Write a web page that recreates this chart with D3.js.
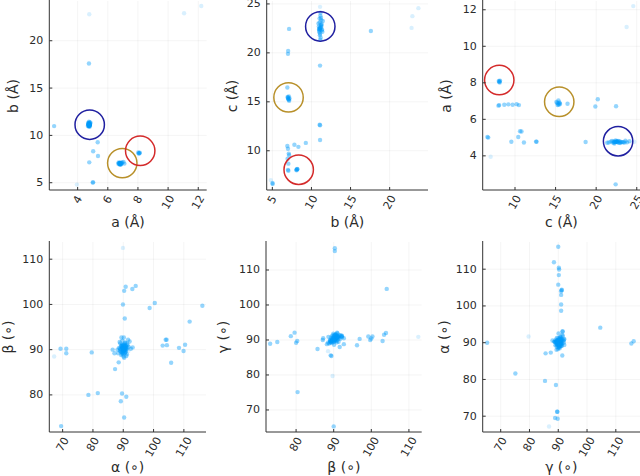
<!DOCTYPE html>
<html>
<head>
<meta charset="utf-8">
<script src="https://cdn.jsdelivr.net/npm/d3@7"></script>
<style>
  html, body { margin: 0; padding: 0; background: #fff; }
  svg { display: block; font-family: "DejaVu Sans", sans-serif; }
</style>
</head>
<body>
<svg id="chart" width="640" height="476"></svg>
<script>
// lattice lengths [a, b, c] in Å, one row per structure
const lengthRows = [
  // main cluster a≈4.8, b≈11.1, c≈22.7
  [4.72, 11.02, 22.10], [4.75, 11.10, 22.35], [4.78, 11.15, 22.60], [4.80, 11.20, 22.85],
  [4.76, 11.05, 23.10], [4.74, 11.25, 23.35], [4.79, 11.12, 22.50], [4.81, 10.95, 22.70],
  [4.70, 11.30, 22.95], [4.77, 11.08, 21.80], [4.73, 11.18, 21.55], [4.83, 11.22, 23.60],
  [4.68, 11.00, 22.25], [4.85, 11.35, 22.40], [4.76, 10.90, 23.00], [4.79, 11.40, 22.15],
  [4.74, 11.14, 23.80], [4.78, 11.06, 22.55], [4.71, 11.28, 22.80], [4.82, 11.10, 21.95],
  [4.75, 11.45, 23.25], [4.77, 10.98, 22.45], [4.80, 11.16, 24.10], [4.76, 11.24, 22.65],
  [4.73, 11.04, 23.50], [4.78, 11.32, 22.30], [4.72, 11.12, 21.35],
  [4.76, 11.10, 18.70], [4.78, 11.10, 12.60], [4.77, 11.05, 12.65], [4.73, 11.10, 11.10],
  [4.75, 17.60, 22.24], [2.44, 10.98, 22.40],
  // cluster a≈6.9, b≈7.1, c≈15.3
  [6.85, 7.05, 15.30], [6.90, 7.10, 15.20], [6.80, 7.00, 15.40], [6.95, 7.15, 15.10],
  [6.88, 6.95, 15.50], [7.04, 7.20, 15.35], [6.78, 7.08, 15.25], [6.92, 7.02, 15.45],
  [6.84, 7.12, 15.55],
  [6.85, 6.92, 16.47], [6.75, 7.05, 7.96], [6.78, 7.00, 8.05], [6.80, 7.05, 8.68],
  [6.82, 6.95, 9.18], [6.80, 7.10, 9.71], [6.83, 7.00, 10.20], [6.78, 6.92, 10.48],
  [6.70, 7.00, 19.90], [7.10, 7.02, 20.20], [6.72, 7.14, 22.45],
  // cluster a≈8.1, b≈8.1, c≈8.1
  [8.08, 8.13, 8.10], [8.05, 8.08, 8.05], [8.12, 8.18, 8.15], [8.10, 8.10, 8.00],
  [8.02, 8.20, 8.12],
  // others
  [5.33, 9.28, 10.80], [5.03, 8.33, 10.40], [5.35, 7.82, 10.62], [4.77, 7.15, 9.55],
  [5.03, 5.04, 6.60], [5.00, 5.02, 6.70]
];
// rarely observed structures (drawn lighter)
const faintLengthRows = [
  [4.77, 11.10, 24.70], [4.77, 22.80, 22.55], [3.95, 4.80, 7.00],
  [11.06, 22.90, 23.75], [12.20, 23.67, 24.57]
];

// lattice angles [alpha, beta, gamma] in degrees
const angleRows = [
  // near-orthogonal cluster
  [90.0, 90.0, 90.0], [89.5, 89.6, 89.8], [90.4, 90.3, 90.2], [89.8, 90.6, 90.5],
  [90.6, 89.4, 89.6], [89.2, 90.1, 90.8], [90.9, 90.8, 90.9], [89.6, 89.1, 89.3],
  [90.2, 91.2, 91.0], [91.1, 90.0, 90.4], [88.9, 89.8, 89.5], [90.7, 91.5, 91.3],
  [89.3, 88.8, 89.0], [91.4, 91.0, 90.7], [88.6, 90.4, 90.1], [90.1, 88.5, 89.2],
  [91.8, 90.6, 91.6], [89.0, 91.4, 90.6], [90.5, 89.9, 91.8], [88.3, 89.2, 89.9],
  [91.2, 89.0, 90.0], [89.7, 92.0, 91.1], [90.3, 88.2, 88.8], [92.1, 91.8, 91.4],
  [88.8, 91.7, 90.3], [90.8, 89.5, 89.1], [89.4, 90.9, 92.1], [91.6, 92.2, 90.8],
  [89.9, 89.3, 90.7], [90.6, 90.7, 89.7], [92.5, 90.2, 90.1], [88.1, 90.0, 89.4],
  [90.0, 91.0, 91.9], [91.0, 88.6, 90.9], [89.1, 89.6, 91.2], [90.3, 90.1, 88.6],
  [91.3, 91.3, 89.5], [89.6, 90.5, 90.3], [90.1, 89.7, 90.6], [90.9, 90.4, 91.5],
  [90.2, 89.8, 90.1], [89.7, 90.2, 89.9], [90.5, 90.5, 90.6], [89.4, 89.4, 89.6],
  [90.8, 90.1, 90.3], [89.9, 90.9, 90.8], [90.4, 89.2, 89.4], [89.2, 90.7, 90.4],
  [91.0, 90.6, 91.1], [90.0, 89.0, 89.7], [89.6, 91.1, 90.9], [90.7, 89.7, 90.0],
  [89.8, 90.3, 91.3], [90.3, 90.8, 89.3], [91.2, 90.3, 90.5], [88.9, 90.2, 90.2],
  [90.1, 90.0, 91.0], [89.5, 90.8, 89.9], [90.6, 91.0, 90.7], [89.9, 89.6, 90.4],
  // outliers
  [94.1, 104.1, 104.6], [90.8, 103.9, 92.0], [93.0, 103.4, 91.5], [90.3, 103.0, 89.7],
  [89.9, 100.0, 90.4], [98.7, 99.2, 91.0], [100.4, 100.3, 91.0], [90.5, 96.9, 90.3],
  [116.1, 99.7, 90.0], [111.9, 96.2, 88.5], [104.0, 92.2, 91.0], [104.3, 92.2, 91.2],
  [103.0, 90.9, 91.0], [104.4, 91.0, 91.2], [110.4, 91.1, 90.2], [109.9, 89.7, 90.3],
  [108.4, 90.4, 90.2], [105.8, 87.1, 90.0], [87.3, 85.7, 87.4], [81.6, 80.4, 75.1],
  [78.5, 80.0, 89.2], [89.6, 80.3, 89.7], [89.2, 78.6, 91.1], [91.0, 79.6, 92.1],
  [90.3, 75.0, 89.4], [69.5, 73.1, 88.9], [79.6, 89.4, 85.4], [69.3, 90.2, 89.8],
  [71.2, 90.2, 89.7], [71.2, 89.2, 89.6], [90.0, 90.0, 65.3], [90.4, 90.3, 116.2],
  [89.8, 90.3, 115.4], [90.2, 92.7, 88.8], [90.6, 91.6, 88.0], [88.5, 87.2, 90.5],
  [87.1, 89.2, 85.6], [86.5, 90.0, 91.4], [89.4, 92.7, 90.5], [93.1, 90.5, 91.5]
];
const faintAngleRows = [
  [89.9, 112.5, 90.9], [67.2, 88.5, 86.8], [91.7, 89.7, 79.7]
];

// highlighted families [a, b, c]
const clusterCenters = [[4.80, 11.13, 22.70], [6.96, 7.07, 15.45], [8.15, 8.37, 8.06]];
const clusterColors = ['#1f1fa0', '#b8902a', '#d42a2a'];

// tick values
const ticksA = [4, 6, 8, 10, 12];
const ticksB1 = [5, 10, 15, 20];
const ticksC = [10, 15, 20, 25];
const ticksA3 = [4, 6, 8, 10, 12];
const ticksAlphaX = [70, 80, 90, 100, 110];
const ticksBetaY = [80, 90, 100, 110];
const ticksBetaX = [80, 90, 100, 110];
const ticksAngleY = [70, 80, 90, 100, 110];

const panels = [
  { rows: 'len', xi: 0, yi: 1, xLabel: 'a (Å)', yLabel: 'b (Å)',
    box: [49.3, 206.7, 1, 190], xDom: [2.12, 12.56], yDom: [4.23, 24.2],
    xTicks: ticksA, yTicks: ticksB1, yLabX: 13 },
  { rows: 'len', xi: 1, yi: 2, xLabel: 'b (Å)', yLabel: 'c (Å)',
    box: [266.7, 428, 1, 190], xDom: [4.28, 24.9], yDom: [5.99, 25.3],
    xTicks: ticksB1, yTicks: ticksC, yLabX: 232 },
  { rows: 'len', xi: 2, yi: 0, xLabel: 'c (Å)', yLabel: 'a (Å)',
    box: [482.7, 640, 1, 190], xDom: [6.02, 25.4], yDom: [2.13, 12.48],
    xTicks: ticksC, yTicks: ticksA3, yLabX: 446 },
  { rows: 'ang', xi: 0, yi: 1, xLabel: 'α (∘)', yLabel: 'β (∘)',
    box: [49.3, 206, 242, 432], xDom: [65.6, 117.3], yDom: [71.8, 113.8],
    xTicks: ticksAlphaX, yTicks: ticksBetaY, yLabX: 7.5 },
  { rows: 'ang', xi: 1, yi: 2, xLabel: 'β (∘)', yLabel: 'γ (∘)',
    box: [266, 421.7, 242, 432], xDom: [72.0, 113.4], yDom: [63.7, 118],
    xTicks: ticksBetaX, yTicks: ticksAngleY, yLabX: 223 },
  { rows: 'ang', xi: 2, yi: 0, xLabel: 'γ (∘)', yLabel: 'α (∘)',
    box: [482.7, 640, 242, 432], xDom: [63.75, 118.4], yDom: [65.7, 117.4],
    xTicks: ticksAlphaX, yTicks: ticksAngleY, yLabX: 444 }
];

const svg = d3.select('#chart');
const pointColor = '#009AFA';
const textColor = '#2b2b2b';

panels.forEach((p) => {
  const [left, right, top, bottom] = p.box;
  const x = d3.scaleLinear().domain(p.xDom).range([left, right]);
  const y = d3.scaleLinear().domain(p.yDom).range([bottom, top]);
  const g = svg.append('g');

  // grid
  g.selectAll('.gx').data(p.xTicks).join('line')
    .attr('x1', d => x(d)).attr('x2', d => x(d))
    .attr('y1', top).attr('y2', bottom)
    .attr('stroke', '#000').attr('stroke-opacity', 0.08).attr('stroke-width', 0.6);
  g.selectAll('.gy').data(p.yTicks).join('line')
    .attr('x1', left).attr('x2', right)
    .attr('y1', d => y(d)).attr('y2', d => y(d))
    .attr('stroke', '#000').attr('stroke-opacity', 0.08).attr('stroke-width', 0.6);

  // points
  const rows = p.rows === 'len' ? lengthRows : angleRows;
  const faint = p.rows === 'len' ? faintLengthRows : faintAngleRows;
  g.selectAll('.pf').data(faint).join('circle')
    .attr('cx', d => x(d[p.xi])).attr('cy', d => y(d[p.yi]))
    .attr('r', 2.2).attr('fill', pointColor).attr('fill-opacity', 0.15);
  g.selectAll('.pt').data(rows).join('circle')
    .attr('cx', d => x(d[p.xi])).attr('cy', d => y(d[p.yi]))
    .attr('r', 2.2).attr('fill', pointColor).attr('fill-opacity', 0.42);

  // highlighted families (length panels only)
  if (p.rows === 'len') {
    g.selectAll('.hl').data(clusterCenters).join('circle')
      .attr('cx', d => x(d[p.xi])).attr('cy', d => y(d[p.yi]))
      .attr('r', 14.7).attr('fill', 'none')
      .attr('stroke', (d, i) => clusterColors[i]).attr('stroke-width', 1.5);
  }

  // axes lines
  g.append('line').attr('x1', left).attr('x2', right).attr('y1', bottom).attr('y2', bottom)
    .attr('stroke', '#333').attr('stroke-width', 1);
  g.append('line').attr('x1', left).attr('x2', left).attr('y1', top - 1).attr('y2', bottom)
    .attr('stroke', '#333').attr('stroke-width', 1);

  // tick marks (inward)
  g.selectAll('.tx').data(p.xTicks).join('line')
    .attr('x1', d => x(d)).attr('x2', d => x(d))
    .attr('y1', bottom).attr('y2', bottom - 3)
    .attr('stroke', '#333').attr('stroke-width', 1);
  g.selectAll('.ty').data(p.yTicks).join('line')
    .attr('x1', left).attr('x2', left + 3)
    .attr('y1', d => y(d)).attr('y2', d => y(d))
    .attr('stroke', '#333').attr('stroke-width', 1);

  // x tick labels, rotated
  g.selectAll('.xl').data(p.xTicks).join('text')
    .attr('font-size', 11).attr('fill', textColor)
    .attr('text-anchor', 'middle').attr('dominant-baseline', 'central')
    .text(d => d)
    .each(function (d) {
      const len = this.getComputedTextLength();
      const cy = bottom + 7 + 0.38 * len;
      d3.select(this).attr('transform', `translate(${x(d)},${cy}) rotate(-60)`);
    });

  // y tick labels
  g.selectAll('.yl').data(p.yTicks).join('text')
    .attr('font-size', 11).attr('fill', textColor)
    .attr('text-anchor', 'end').attr('dominant-baseline', 'central')
    .attr('x', left - 6).attr('y', d => y(d))
    .text(d => d);

  // axis titles
  const isTop = top < 10;
  g.append('text')
    .attr('font-size', 14).attr('fill', textColor)
    .attr('text-anchor', 'middle').attr('dominant-baseline', 'central')
    .attr('x', (left + right) / 2).attr('y', isTop ? 221.5 : 467)
    .text(p.xLabel);
  g.append('text')
    .attr('font-size', 14).attr('fill', textColor)
    .attr('text-anchor', 'middle').attr('dominant-baseline', 'central')
    .attr('transform', `translate(${p.yLabX},${isTop ? 96 : 337}) rotate(-90)`)
    .text(p.yLabel);
});
</script>
</body>
</html>
